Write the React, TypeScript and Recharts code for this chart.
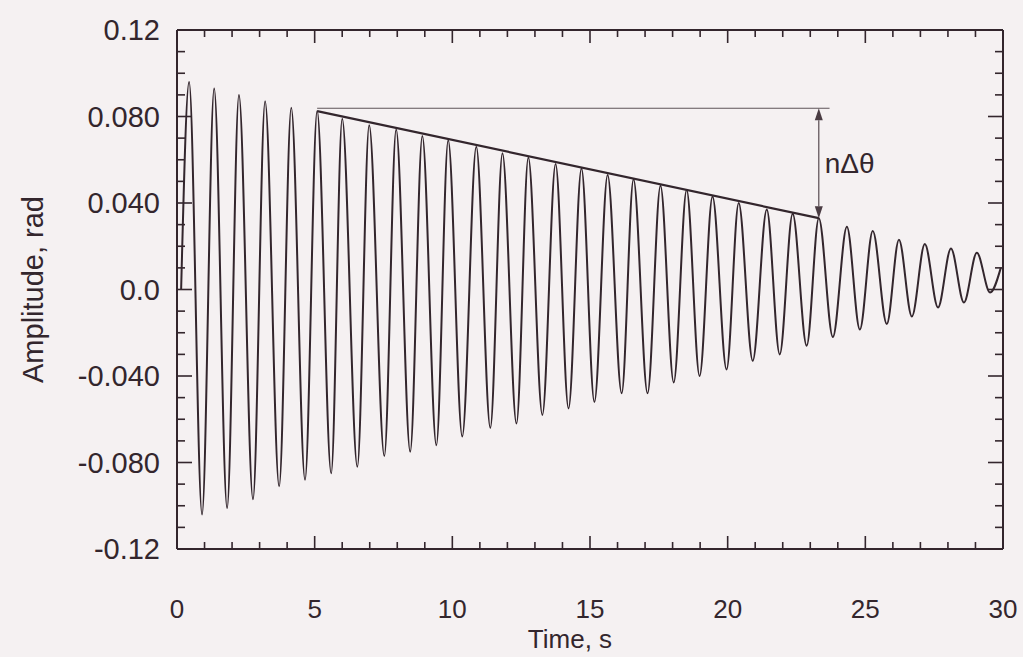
import React from 'react';
import { LineChart, Line, XAxis, YAxis, ReferenceLine } from 'recharts';

// ---- data ----
const START_T = [0.15];
const START_V = [0.0];

const PEAK_T = [0.44, 1.35, 2.25, 3.2, 4.15, 5.09, 6.0, 6.98, 7.96, 8.91, 9.85, 10.87, 11.82, 12.76, 13.75, 14.69, 15.64, 16.58, 17.56, 18.51, 19.45, 20.4, 21.42, 22.36, 23.31, 24.33, 25.27, 26.22, 27.16, 28.11, 29.05, 29.92];
const PEAK_V = [0.096, 0.093, 0.09, 0.087, 0.084, 0.0825, 0.079, 0.076, 0.074, 0.071, 0.069, 0.066, 0.063, 0.061, 0.058, 0.056, 0.053, 0.051, 0.048, 0.046, 0.043, 0.04, 0.037, 0.035, 0.033, 0.029, 0.027, 0.023, 0.021, 0.019, 0.017, 0.01];

const TROUGH_T = [0.91, 1.82, 2.76, 3.71, 4.65, 5.6, 6.55, 7.53, 8.47, 9.42, 10.36, 11.38, 12.33, 13.27, 14.22, 15.16, 16.15, 17.09, 18.04, 18.98, 19.96, 20.91, 21.89, 22.87, 23.82, 24.8, 25.78, 26.69, 27.64, 28.58, 29.53];
const TROUGH_V = [-0.104, -0.101, -0.097, -0.091, -0.088, -0.085, -0.082, -0.077, -0.075, -0.072, -0.068, -0.064, -0.062, -0.058, -0.055, -0.052, -0.048, -0.048, -0.043, -0.04, -0.037, -0.033, -0.03, -0.026, -0.022, -0.0185, -0.016, -0.0125, -0.0083, -0.006, -0.0014];

// envelope line (nΔθ construction)
const ENV_T = [5.09, 23.31];
const ENV_V = [0.0825, 0.033];
const REF_LEVEL = 0.0838;
const REF_T_END = 23.7;
const ARROW_T = 23.31;
const ARROW_TEXT = 'nΔθ';

// axes
const X_TICKS = [0, 1, 2, 3, 4, 5, 6, 7, 8, 9, 10, 11, 12, 13, 14, 15, 16, 17, 18, 19, 20, 21, 22, 23, 24, 25, 26, 27, 28, 29, 30];
const X_LABELS = [0, 5, 10, 15, 20, 25, 30];
const Y_TICKS = [-0.12, -0.11, -0.1, -0.09, -0.08, -0.07, -0.06, -0.05, -0.04, -0.03, -0.02, -0.01, 0, 0.01, 0.02, 0.03, 0.04, 0.05, 0.06, 0.07, 0.08, 0.09, 0.1, 0.11, 0.12];
const Y_LABEL_VALUES = [-0.12, -0.08, -0.04, 0, 0.04, 0.08, 0.12];
const Y_LABEL_TEXT = ['-0.12', '-0.080', '-0.040', '0.0', '0.040', '0.080', '0.12'];
const X_TITLE = 'Time, s';
const Y_TITLE = 'Amplitude, rad';

// ---- build series ----
type Pt = { t: number; v: number };
const SERIES: Pt[] = [
  ...START_T.map((t, i) => ({ t, v: START_V[i] })),
  ...PEAK_T.map((t, i) => ({ t, v: PEAK_V[i] })),
  ...TROUGH_T.map((t, i) => ({ t, v: TROUGH_V[i] })),
].sort((a, b) => a.t - b.t);

// ---- styles ----
const INK = '#33262d';
const BG = '#f5f1f2';
const FONT = "'Liberation Sans', Arial, Helvetica, sans-serif";
const NARROW = "'Liberation Sans Narrow', 'Arial Narrow', 'Liberation Sans', Arial, sans-serif";

const X_TICK_SIZE = 0;
const X_TICK_MARGIN = 51;
const Y_TICK_SIZE = 0;
const Y_TICK_MARGIN = 17;
const MAJOR_LEN_X = 13;
const MINOR_LEN_X = 7;
const MAJOR_LEN_Y = 15;
const MINOR_LEN_Y = 8;

function BottomTick(props: any) {
  const { x, y, payload } = props;
  const v = payload.value;
  const base = y - X_TICK_MARGIN - X_TICK_SIZE;
  const major = X_LABELS.includes(v);
  return (
    <g>
      <line x1={x} x2={x} y1={base} y2={base - (major ? MAJOR_LEN_X : MINOR_LEN_X)} stroke={INK} strokeWidth={1.6} />
      {major && (
        <text x={x} y={y} dy="0.71em" textAnchor="middle" fontSize={26} fontFamily={NARROW} fill={INK}>
          {v}
        </text>
      )}
    </g>
  );
}

function TopTick(props: any) {
  const { x, y, payload } = props;
  const major = X_LABELS.includes(payload.value);
  return <line x1={x} x2={x} y1={y} y2={y + (major ? MAJOR_LEN_X : MINOR_LEN_X)} stroke={INK} strokeWidth={1.6} />;
}

function LeftTick(props: any) {
  const { x, y, payload } = props;
  const v = payload.value;
  const base = x + Y_TICK_MARGIN + Y_TICK_SIZE;
  const idx = Y_LABEL_VALUES.indexOf(v);
  const major = idx >= 0;
  return (
    <g>
      <line x1={base} x2={base + (major ? MAJOR_LEN_Y : MINOR_LEN_Y)} y1={y} y2={y} stroke={INK} strokeWidth={1.6} />
      {major && (
        <text x={x} y={y} dy="0.355em" textAnchor="end" fontSize={29} fontFamily={FONT} fill={INK}>
          {Y_LABEL_TEXT[idx]}
        </text>
      )}
    </g>
  );
}

function RightTick(props: any) {
  const { x, y, payload } = props;
  const major = Y_LABEL_VALUES.includes(payload.value);
  return <line x1={x} x2={x - (major ? MAJOR_LEN_Y : MINOR_LEN_Y)} y1={y} y2={y} stroke={INK} strokeWidth={1.6} />;
}

function ArrowShape(props: any) {
  const { x1, y1, y2 } = props;
  const top = Math.min(y1, y2);
  const bot = Math.max(y1, y2);
  const hw = 4;
  const hl = 12;
  const col = '#4a3c43';
  return (
    <g>
      <line x1={x1} x2={x1} y1={top + hl} y2={bot - hl} stroke={col} strokeWidth={1.1} />
      <polygon points={`${x1},${top} ${x1 - hw},${top + hl} ${x1 + hw},${top + hl}`} fill={col} />
      <polygon points={`${x1},${bot} ${x1 - hw},${bot - hl} ${x1 + hw},${bot - hl}`} fill={col} />
      <text x={x1 + 6} y={(top + bot) / 2} dy="0.355em" fontSize={28} fontFamily={FONT} fill={INK}>
        {ARROW_TEXT}
      </text>
    </g>
  );
}

export default function App() {
  return (
    <div style={{ position: 'absolute', left: 0, top: 0, width: 1023, height: 657, background: BG }}>
      <LineChart width={1023} height={657} data={SERIES} margin={{ top: 29, right: 19, bottom: 0, left: 0 }}>
        <XAxis
          xAxisId="bottom"
          dataKey="t"
          type="number"
          domain={[0, 30]}
          ticks={X_TICKS}
          interval={0}
          height={108}
          tickSize={X_TICK_SIZE}
          tickMargin={X_TICK_MARGIN}
          tickLine={false}
          tick={BottomTick}
          axisLine={{ stroke: INK, strokeWidth: 2 }}
          allowDataOverflow
          label={{ value: X_TITLE, position: 'insideBottom', offset: 9, dx: -20, style: { fontSize: 26, fontFamily: NARROW, fill: INK } }}
        />
        <XAxis
          xAxisId="top"
          orientation="top"
          dataKey="t"
          type="number"
          domain={[0, 30]}
          ticks={X_TICKS}
          interval={0}
          height={1}
          tickSize={0}
          tickMargin={0}
          tickLine={false}
          tick={TopTick}
          axisLine={{ stroke: INK, strokeWidth: 2 }}
          allowDataOverflow
        />
        <YAxis
          yAxisId="left"
          type="number"
          domain={[-0.12, 0.12]}
          ticks={Y_TICKS}
          interval={0}
          width={177}
          tickSize={Y_TICK_SIZE}
          tickMargin={Y_TICK_MARGIN}
          tickLine={false}
          tick={LeftTick}
          axisLine={{ stroke: INK, strokeWidth: 2 }}
          allowDataOverflow
          label={{ value: Y_TITLE, angle: -90, position: 'insideLeft', offset: 33, style: { textAnchor: 'middle', fontSize: 29, fontFamily: FONT, fill: INK } }}
        />
        <YAxis
          yAxisId="right"
          orientation="right"
          type="number"
          domain={[-0.12, 0.12]}
          ticks={Y_TICKS}
          interval={0}
          width={1}
          tickSize={0}
          tickMargin={0}
          tickLine={false}
          tick={RightTick}
          axisLine={{ stroke: INK, strokeWidth: 2 }}
          allowDataOverflow
        />
        <Line
          xAxisId="top"
          yAxisId="right"
          dataKey="v"
          type="monotone"
          stroke="none"
          dot={false}
          activeDot={false}
          isAnimationActive={false}
        />
        <Line
          xAxisId="bottom"
          yAxisId="left"
          dataKey="v"
          type="monotone"
          stroke={INK}
          strokeWidth={2}
          dot={false}
          activeDot={false}
          isAnimationActive={false}
        />
        <ReferenceLine
          xAxisId="bottom"
          yAxisId="left"
          segment={[{ x: ENV_T[0], y: REF_LEVEL }, { x: REF_T_END, y: REF_LEVEL }]}
          stroke="#5e5358"
          strokeWidth={1.1}
        />
        <ReferenceLine
          xAxisId="bottom"
          yAxisId="left"
          segment={[{ x: ENV_T[0], y: ENV_V[0] }, { x: ENV_T[1], y: ENV_V[1] }]}
          stroke={INK}
          strokeWidth={2.2}
        />
        <ReferenceLine
          xAxisId="bottom"
          yAxisId="left"
          segment={[{ x: ARROW_T, y: REF_LEVEL }, { x: ARROW_T, y: ENV_V[1] }]}
          shape={ArrowShape}
        />
      </LineChart>
    </div>
  );
}
